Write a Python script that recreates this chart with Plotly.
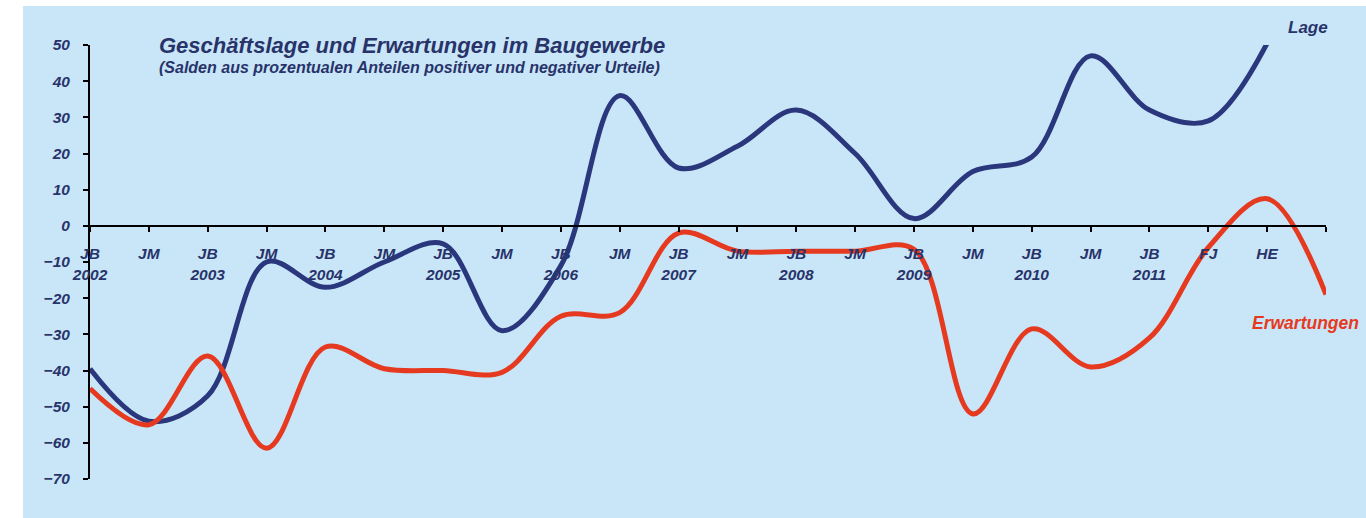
import plotly.graph_objects as go

# Halbjahres-Befragungen (JB = Jahresbeginn, JM = Jahresmitte, FJ = Frühjahr, HE = Herbst)
PERIODS = ["JB<br>2002", "JM", "JB<br>2003", "JM", "JB<br>2004", "JM", "JB<br>2005", "JM",
           "JB<br>2006", "JM", "JB<br>2007", "JM", "JB<br>2008", "JM", "JB<br>2009", "JM",
           "JB<br>2010", "JM", "JB<br>2011", "FJ", "HE", ""]
LAGE = [-39.5, -54, -47, -10, -17, -10, -5, -29, -11, 36, 16, 22, 32, 20, 2, 15,
        19, 47, 32, 29, 50.5]
ERWARTUNGEN = [-45, -55, -36, -61.5, -33.5, -39.5, -40, -40.5, -25, -24, -2, -7, -7, -7, -6.5,
               -52, -28.5, -39, -31, -6, 7.5, -19]

NAVY = "#2a377c"
RED = "#e63a20"
INK = "#28336a"
BG = "#c9e6f8"
FONT = "Liberation Sans, Arial, sans-serif"

# Pixel-Geometrie des Plotbereichs
L, R, T, B = 90, 40, 45, 39
W, H = 1366 - L - R, 518 - T - B


def px(x):
    return (x - L) / W


def py(y):
    return (518 - B - y) / H


fig = go.Figure()
fig.add_trace(go.Scatter(x=list(range(len(LAGE))), y=LAGE, mode="lines", name="Lage",
                         line=dict(color=NAVY, width=5, shape="spline", smoothing=1.0)))
fig.add_trace(go.Scatter(x=list(range(len(ERWARTUNGEN))), y=ERWARTUNGEN, mode="lines",
                         name="Erwartungen",
                         line=dict(color=RED, width=5, shape="spline", smoothing=1.0)))

fig.add_shape(type="rect", xref="paper", yref="paper", x0=px(23), x1=px(1380),
              y0=py(530), y1=py(6), fillcolor=BG, line_width=0, layer="below")

tickfont = dict(family=FONT, size=15.5, color=INK, weight="bold", style="italic")
fig.update_xaxes(range=[0, len(PERIODS) - 1], tickvals=list(range(len(PERIODS))),
                 ticktext=PERIODS, showgrid=False, zeroline=False,
                 showline=True, linecolor="black", linewidth=2,
                 ticks="outside", ticklen=5, tickwidth=2, tickcolor="black",
                 tickfont=tickfont, ticklabelstandoff=9,
                 anchor="free", position=70 / 120)
fig.update_yaxes(range=[-70, 50], dtick=10, showgrid=False, zeroline=False,
                 showline=True, linecolor="black", linewidth=2,
                 ticks="outside", ticklen=5, tickwidth=2, tickcolor="black",
                 tickfont=tickfont, ticklabelstandoff=10)

ann = dict(xref="paper", yref="paper", showarrow=False, xanchor="left", yanchor="middle")
fig.add_annotation(x=px(157), y=py(45), text="Geschäftslage und Erwartungen im Baugewerbe",
                   font=dict(family=FONT, size=22, color=INK, weight="bold", style="italic"), **ann)
fig.add_annotation(x=px(157), y=py(67),
                   text="(Salden aus prozentualen Anteilen positiver und negativer Urteile)",
                   font=dict(family=FONT, size=16, color=INK, weight="bold", style="italic"), **ann)
fig.add_annotation(x=px(1286), y=py(27), text="Lage",
                   font=dict(family=FONT, size=17, color=INK, weight="bold", style="italic"), **ann)
fig.add_annotation(x=px(1250), y=py(323), text="Erwartungen",
                   font=dict(family=FONT, size=17.5, color=RED, weight="bold", style="italic"), **ann)

fig.update_layout(
    width=1366, height=518, margin=dict(l=L, r=R, t=T, b=B),
    paper_bgcolor="#ffffff", plot_bgcolor="rgba(0,0,0,0)",
    showlegend=False, font=dict(family=FONT, color=INK),
)

fig.write_html("out.html", config={"displayModeBar": False},
               post_script="document.body.style.margin='0';")
